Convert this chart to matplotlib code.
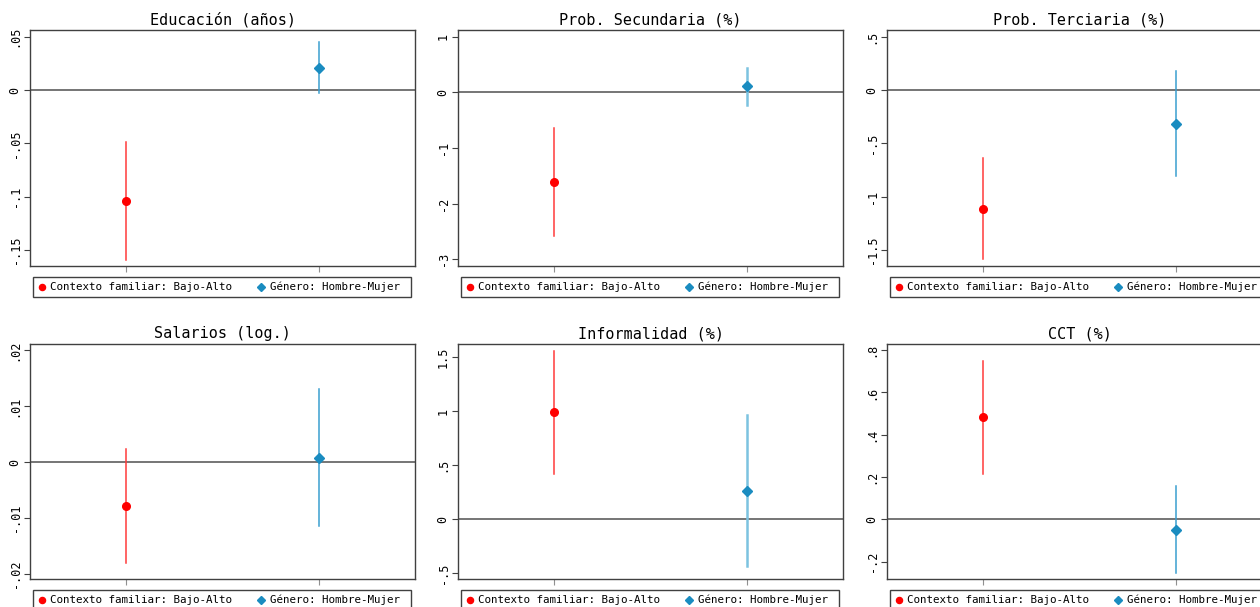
import matplotlib
matplotlib.use("Agg")
from matplotlib import pyplot as plt
from matplotlib.ticker import FuncFormatter

plt.rcParams['font.family'] = ['DejaVu Sans Mono']

titles = ['Educación (años)', 'Prob. Secundaria (%)', 'Prob. Terciaria (%)',
          'Salarios (log.)', 'Informalidad (%)', 'CCT (%)']
labels = ['Contexto familiar: Bajo-Alto', 'Género: Hombre-Mujer']

# point estimate, ci low, ci high  (red = contexto familiar, blue = genero)
red_est = [-0.104, -1.61, -1.116, -0.0079, 0.991, 0.482]
red_lo = [-0.159, -2.58, -1.587, -0.0180, 0.419, 0.213]
red_hi = [-0.0484, -0.64, -0.6375, 0.0024, 1.558, 0.750]
blue_est = [0.0206, 0.108, -0.316, 0.0008, 0.259, -0.049]
blue_lo = [-0.0031, -0.234, -0.803, -0.0115, -0.437, -0.253]
blue_hi = [0.0447, 0.44, 0.175, 0.0131, 0.959, 0.158]

yticks = [[-0.15, -0.1, -0.05, 0, 0.05],
          [-3, -2, -1, 0, 1],
          [-1.5, -1, -0.5, 0, 0.5],
          [-0.02, -0.01, 0, 0.01, 0.02],
          [-0.5, 0, 0.5, 1, 1.5],
          [-0.2, 0, 0.2, 0.4, 0.6, 0.8]]
ylims = [(-0.165, 0.0563), (-3.12, 1.12), (-1.65, 0.5625),
         (-0.0209, 0.0211), (-0.556, 1.62), (-0.2815, 0.8285)]

red = '#ff0000'
red_ci = '#ff3b3b'
blue = '#1a8cc0'
blue_ci = ['#3a9fd0', '#7cc3e0', '#3a9fd0', '#3a9fd0', '#7cc3e0', '#3a9fd0']
blue_ci_w = [1.1, 1.8, 1.1, 1.1, 1.8, 1.1]
dark = '#404040'


def stata_fmt(v, pos):
    s = ('%g' % round(v, 6))
    if s.startswith('0.'):
        s = s[1:]
    elif s.startswith('-0.'):
        s = '-' + s[2:]
    return s


W, H = 1260, 607
fig = plt.figure(figsize=(W / 100, H / 100), dpi=100)

lefts = [30, 458, 887]
tops = [30, 344]
heights = [236, 235]
width = 385

for i in range(6):
    r, c = divmod(i, 3)
    left = lefts[c]
    top = tops[r]
    h = heights[r]
    ax = fig.add_axes([left / W, (H - top - h) / H, width / W, h / H])

    ax.axhline(0, color='#505050', lw=1.1, zorder=1)
    ax.plot([1, 1], [red_lo[i], red_hi[i]], color=red_ci, lw=1.1, zorder=2)
    ax.plot([1], [red_est[i]], 'o', color=red, ms=5.5, zorder=3, label=labels[0])
    ax.plot([2, 2], [blue_lo[i], blue_hi[i]], color=blue_ci[i], lw=blue_ci_w[i], zorder=2)
    # trailing space leaves the right padding of the Stata legend box
    ax.plot([2], [blue_est[i]], 'D', color=blue, ms=5, zorder=3, label=labels[1] + ' ')

    ax.set_xlim(0.5, 2.5)
    ax.set_ylim(*ylims[i])
    ax.set_xticks([1, 2])
    ax.set_xticklabels([])
    ax.set_yticks(yticks[i])
    ax.yaxis.set_major_formatter(FuncFormatter(stata_fmt))
    ax.tick_params(axis='y', labelrotation=90, labelsize=8.5, length=4,
                   color=dark, pad=2)
    for t in ax.get_yticklabels():
        t.set_va('center')
    ax.tick_params(axis='x', length=4, color='#909090')
    for sp in ax.spines.values():
        sp.set_color(dark)
        sp.set_linewidth(1.0)

    ax.set_title(titles[i], fontsize=10.9, pad=4)

    leg = ax.legend(loc='upper left', bbox_to_anchor=(3 / width, -11 / h, 378 / width, 0),
                    mode='expand', ncol=2, fontsize=7.8, borderaxespad=0,
                    handlelength=0.7, handletextpad=0.45, columnspacing=2.0,
                    borderpad=0.45, fancybox=False, framealpha=1, markerscale=0.8)
    leg.get_frame().set_edgecolor(dark)
    leg.get_frame().set_linewidth(1.0)

fig.savefig('out.png', dpi=100)
